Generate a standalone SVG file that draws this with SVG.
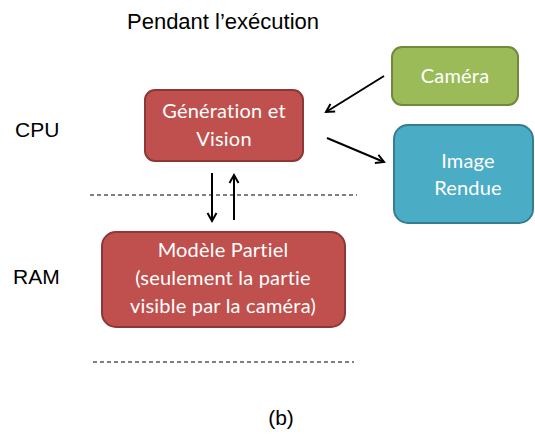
<svg xmlns="http://www.w3.org/2000/svg" width="535" height="434" viewBox="0 0 535 434">
<defs>
<style>
.lbl{font-family:"Liberation Sans",Arial,sans-serif;fill:#000}
.bt{font-family:Lato,"Open Sans",sans-serif;font-size:20px;fill:#fff;text-anchor:middle;letter-spacing:0.2px}
.red{fill:#C0504D;stroke:#8C3836;stroke-width:2}
.green{fill:#9BBB59;stroke:#71893F;stroke-width:2}
.blue{fill:#4BACC6;stroke:#357D91;stroke-width:2}
.arr{stroke:#000;stroke-width:2;fill:none;marker-end:url(#ah)}
.dash{stroke:#000;stroke-width:1;stroke-dasharray:4 3;fill:none}
</style>
<marker id="ah" markerWidth="12" markerHeight="12" refX="9" refY="6" orient="auto" markerUnits="userSpaceOnUse">
<path d="M1,1.5 L9,6 L1,10.5" fill="none" stroke="#000" stroke-width="2"/>
</marker>
</defs>
<rect width="535" height="434" fill="#fff"/>
<text class="lbl" x="223" y="29" font-size="22" text-anchor="middle">Pendant l’exécution</text>
<text class="lbl" x="15" y="137" font-size="21">CPU</text>
<text class="lbl" x="13" y="284" font-size="21">RAM</text>
<text class="lbl" x="281" y="425" font-size="21" text-anchor="middle">(b)</text>
<g id="connectors">
<line class="dash" x1="90" y1="195" x2="357" y2="195"/>
<line class="dash" x1="93" y1="362" x2="354" y2="362"/>
<line class="arr" x1="384" y1="76" x2="326" y2="112"/>
<line class="arr" x1="327" y1="138" x2="384" y2="162"/>
<line class="arr" x1="212" y1="173" x2="212" y2="221"/>
<line class="arr" x1="234" y1="220" x2="234" y2="175"/>
</g>
<g id="generation">
<rect class="red" x="145" y="90" width="158" height="71" rx="10"/>
<text class="bt" x="224" y="118">Génération et</text>
<text class="bt" x="224" y="146">Vision</text>
</g>
<g id="camera">
<rect class="green" x="392" y="47" width="126" height="58" rx="10"/>
<text class="bt" x="455" y="83">Caméra</text>
</g>
<g id="image">
<rect class="blue" x="394" y="125" width="139" height="98" rx="14"/>
<text class="bt" x="468" y="168">Image</text>
<text class="bt" x="468" y="195">Rendue</text>
</g>
<g id="modele">
<rect class="red" x="102" y="232" width="243" height="95" rx="14"/>
<text class="bt" x="223" y="257">Modèle Partiel</text>
<text class="bt" x="223" y="285">(seulement la partie</text>
<text class="bt" x="223" y="313">visible par la caméra)</text>
</g>
</svg>
